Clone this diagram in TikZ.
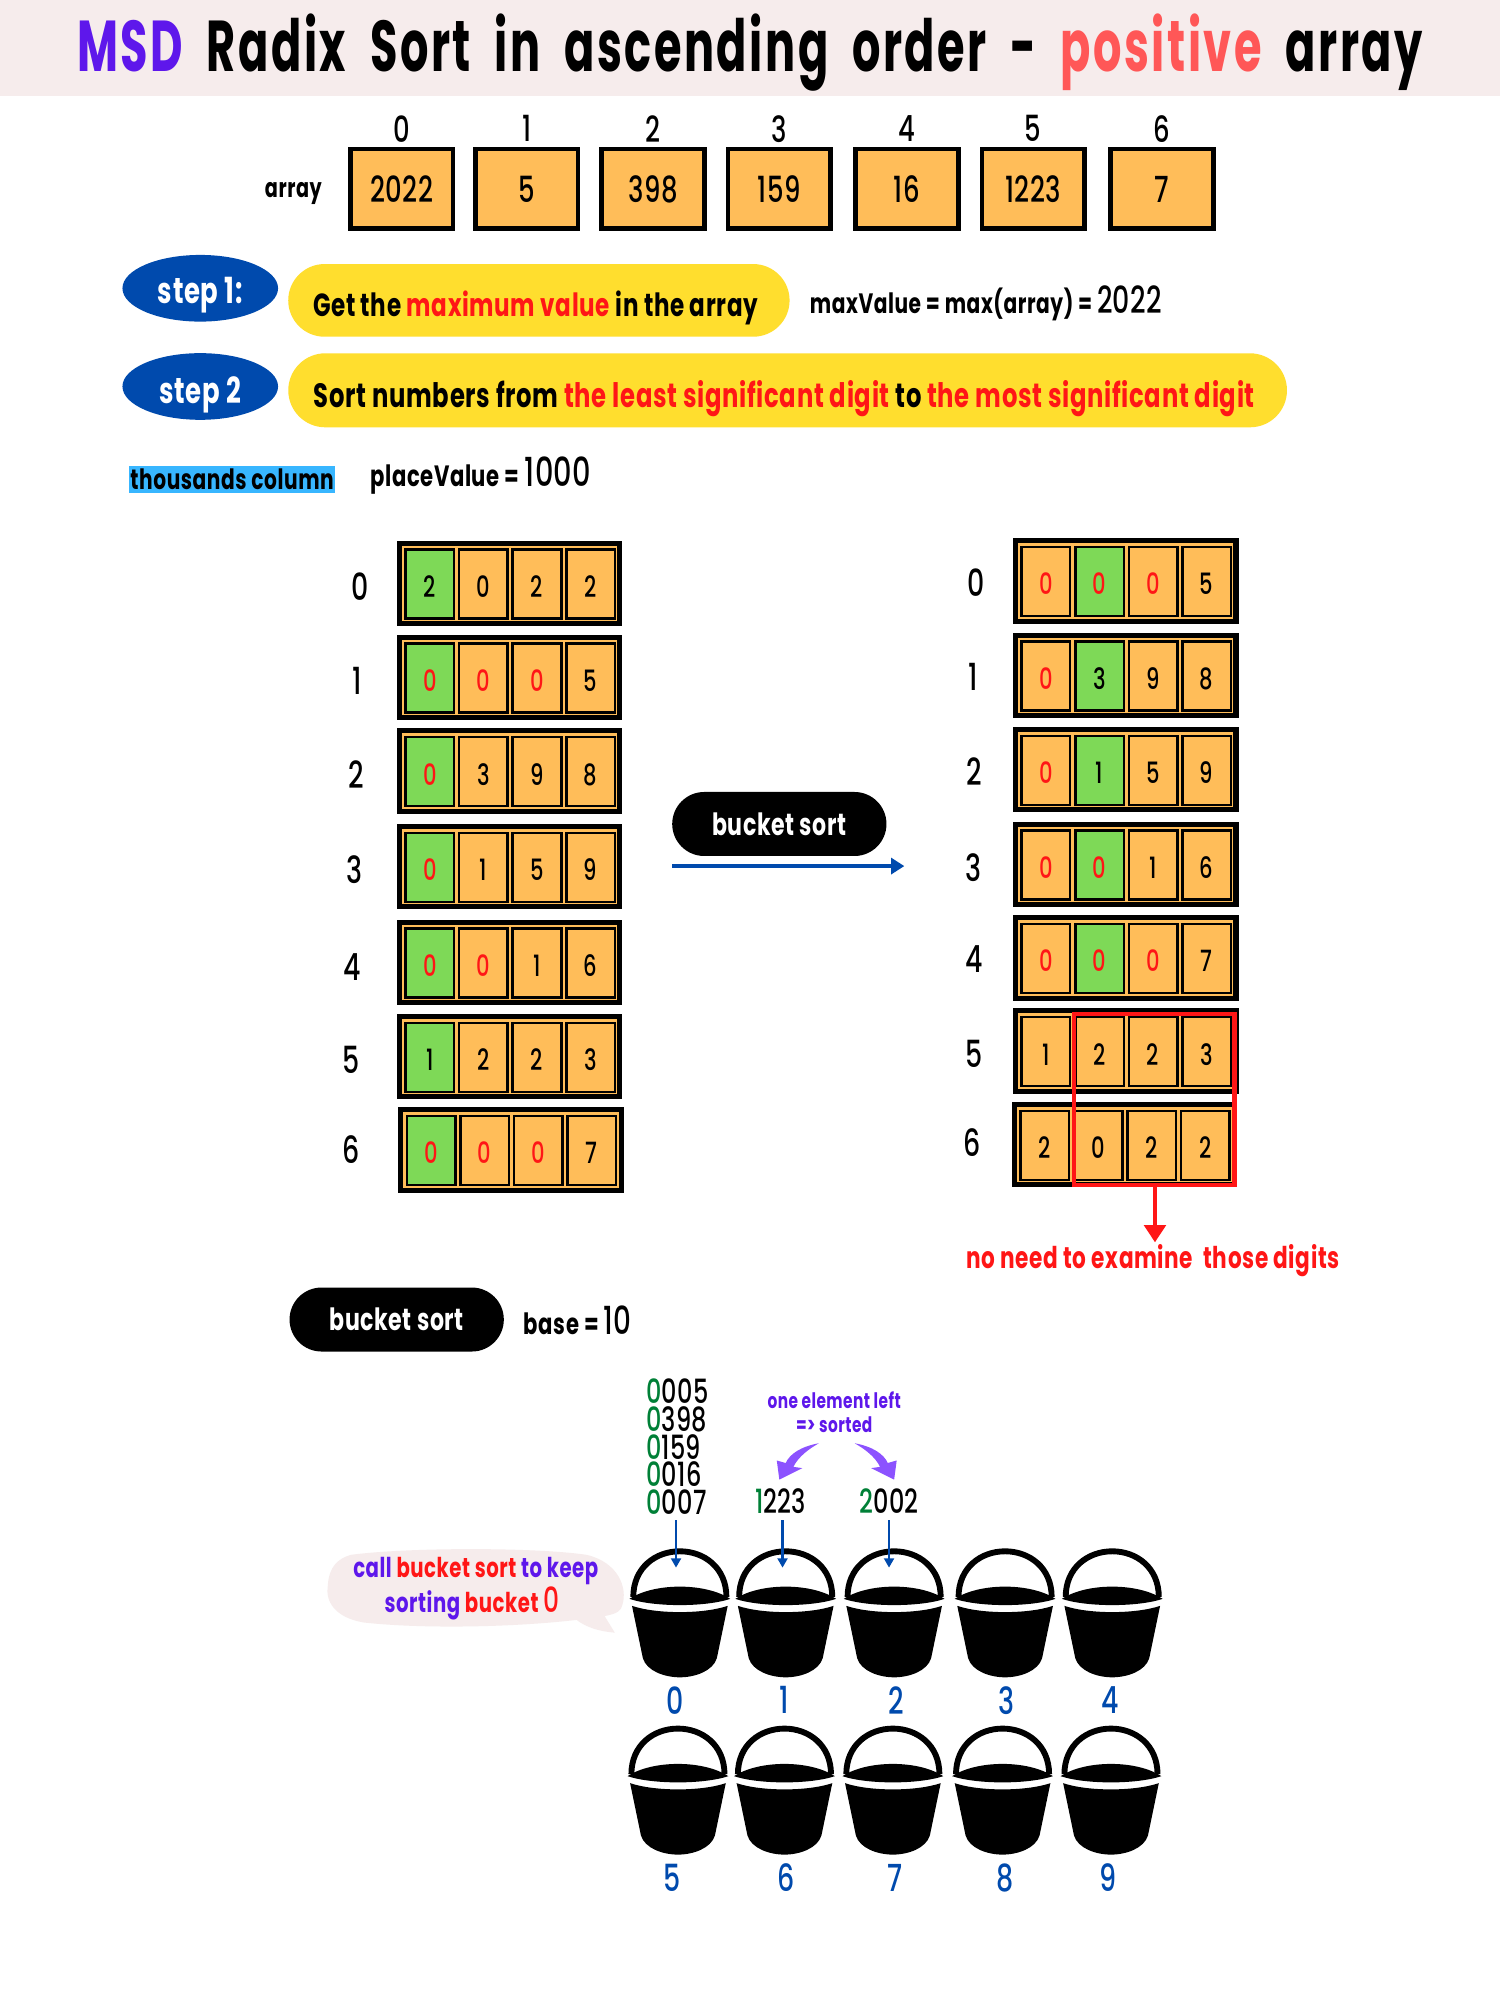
\documentclass[tikz,border=0pt]{standalone}
\usepackage{fontspec}
\usetikzlibrary{arrows.meta,shapes.geometric,shapes.misc}
\newfontfamily\hand[FakeStretch=0.72,LetterSpace=2]{Poppins}
\newfontfamily\handm[FakeStretch=0.72,LetterSpace=1]{Poppins Medium}
\newfontfamily\titlef[FakeStretch=0.62,LetterSpace=3.5,WordSpace=2]{Poppins}
\newcommand\fsz[1]{\fontsize{#1}{#1}\selectfont}
\definecolor{band}{HTML}{F6ECEC}
\definecolor{dorange}{HTML}{FFBD59}
\definecolor{dgreen}{HTML}{7ED957}
\definecolor{ablue}{HTML}{004AAD}
\definecolor{yel}{HTML}{FFDE2E}
\definecolor{hred}{HTML}{FF1616}
\definecolor{coral}{HTML}{FF5757}
\definecolor{purp}{HTML}{5E17EB}
\definecolor{lpurp}{HTML}{8C52FF}
\definecolor{sky}{HTML}{38B6FF}
\definecolor{dgn}{HTML}{008037}
\newcommand\R[1]{\textcolor{hred}{#1}}
\newcommand\Pu[1]{\textcolor{purp}{#1}}
\newcommand\G[1]{\textcolor{dgn}{#1}}
\newcommand\zr{\R{0}}
\tikzset{
  every node/.style={font=\hand\fsz{22}, inner sep=0pt, outer sep=0pt, align=center},
  arrcell/.style={draw=black, fill=dorange, line width=3.4pt, minimum width=77pt, minimum height=59.8pt, font=\handm\fsz{27}, text height=21pt, text depth=0pt},
  idx/.style={font=\handm\fsz{27}},
  rowbase/.style={fill=black, minimum width=169.3pt, minimum height=64pt},
  rowinner/.style={fill=dorange, minimum width=161.5pt, minimum height=56.5pt},
  dcell/.style={draw=black, line width=1.9pt, minimum width=36.4pt, minimum height=51.7pt, font=\handm\fsz{22}, text height=20pt, text depth=0pt},
  rowlab/.style={font=\handm\fsz{28}},
  blob/.style={ellipse, fill=ablue, text=white, minimum width=116.7pt, minimum height=50pt, font=\hand\bfseries\fsz{27}, text depth=0pt},
  pill/.style={rounded rectangle, fill=yel, font=\hand\bfseries\fsz{24}, text depth=0pt},
  blackpill/.style={rounded rectangle, fill=black, text=white, minimum width=160.7pt, minimum height=48pt, font=\hand\bfseries\fsz{23}},
  blab/.style={text=ablue, font=\handm\fsz{28}},
  bnum/.style={font=\handm\fsz{25}},
  blueflow/.style={draw=ablue, line width=1.6pt, -{Triangle[length=7pt,width=7.5pt]}},
  bkt/.style={fill=black}
}
\newcommand\digcell[5]{%
  \ifnum#4=1 \def\cc{dgreen}\else\def\cc{dorange}\fi
  \node[dcell, fill=\cc] (#1) at (#2,#3) {#5};}
\newcommand\digrow[8]{%
  \node[rowbase] (#1) at (#2+88.5,#3+33.5) {};
  \node[rowinner] (#1i) at (#2+88.5,#3+33.5) {};
  \ifnum#4=1 \digcell{#1a}{#2+26}{#3+34}{1}{#5}\else\digcell{#1a}{#2+26}{#3+34}{0}{#5}\fi
  \ifnum#4=2 \digcell{#1b}{#2+68}{#3+34}{1}{#6}\else\digcell{#1b}{#2+68}{#3+34}{0}{#6}\fi
  \digcell{#1c}{#2+110}{#3+34}{0}{#7}
  \digcell{#1d}{#2+152}{#3+34}{0}{#8}}
\newcommand\bucket[3]{%
  \begin{scope}[shift={(#2,#3)}]
    \draw[line width=4.4pt] (-36.5,38) .. controls (-36.5,15) and (-19,2.2) .. (0,2.2) .. controls (19,2.2) and (36.5,15) .. (36.5,38);
    \fill[bkt] (-39.5,39.5) .. controls (-20,26.7) and (20,26.7) .. (39.5,39.5)
       .. controls (20,46) and (-20,46) .. cycle;
    \fill[bkt] (-37.5,45) .. controls (-18,51.5) and (18,51.5) .. (37.5,45)
       -- (29,86) .. controls (26,96) and (12,101) .. (0,101) .. controls (-12,101) and (-26,96) .. (-29,86) -- cycle;
    \coordinate (#1) at (0,40);
  \end{scope}}
\begin{document}
\begin{tikzpicture}[x=0.9566pt,y=-0.9566pt]
\useasboundingbox (0,0) rectangle (1176,1568);
\fill[white] (0,0) rectangle (1176,1568);
\fill[band] (0,0) rectangle (1176,75);
% title
\node[font=\titlef\bfseries\fsz{54}, text height=38pt, text depth=0pt] (title) at (588,36)
 {\textcolor{purp}{MSD} Radix Sort in ascending order - \textcolor{coral}{positive} array};
% array
\node[font=\hand\bfseries\fsz{20}] (arrlab) at (230,152) {array};
\foreach \n/\x/\v in {0/315/2022,1/413/5,2/512/398,3/611/159,4/711/16,5/810/1223}{
  \node[arrcell] (c\n) at (\x,148) {\v};
  \node[idx] (i\n) at (\x,101) {\n};
}
\node[arrcell] (c6) at (911,148) {7};
\node[idx] (i6) at (911,101) {6};
% steps
\node[blob, text height=23pt] (s1) at (157,226) {step 1:};
\node[blob, text height=25pt] (s2) at (157,303) {step 2};
\node[pill, minimum width=376pt, minimum height=54.5pt, text height=24pt] (p1) at (422.5,235.5)
 {Get the \R{maximum value} in the array\hspace*{5pt}};
\node[pill, minimum width=749pt, minimum height=55.5pt, text height=26pt, font=\hand\bfseries\fsz{25.3}] (p2) at (617.5,306)
 {Sort numbers from \R{the least significant digit} to \R{the most significant digit}\hspace*{5pt}};
\node[font=\hand\bfseries\fsz{21}] (mv) at (773,238) {maxValue = max(array) = {\handm\mdseries\fsz{28}2022}};
\node[fill=sky, minimum width=155pt, minimum height=20pt] (th) at (182,376) {\hand\bfseries\fsz{21}thousands column};
\node[font=\hand\bfseries\fsz{22}] (pv) at (377,373) {placeValue = {\handm\mdseries\fsz{30}1000}};
% left table
\digrow{la}{311}{424}{1}{2}{0}{2}{2}
\digrow{lb}{311}{497.5}{1}{\zr}{\zr}{\zr}{5}
\digrow{lc}{311}{571}{1}{\zr}{3}{9}{8}
\digrow{ld}{311}{646}{1}{\zr}{1}{5}{9}
\digrow{le}{311}{721}{1}{\zr}{\zr}{1}{6}
\digrow{lf}{311}{795}{1}{1}{2}{2}{3}
\digrow{lg}{312}{868}{1}{\zr}{\zr}{\zr}{7}
\foreach \n/\x/\y in {0/282/460,1/280/534,2/279/607,3/278/682,4/276/758,5/275/831,6/275/901}
  \node[rowlab] (ll\n) at (\x,\y) {\n};
% right table
\digrow{ra}{794}{422}{2}{\zr}{\zr}{\zr}{5}
\digrow{rb}{794}{496}{2}{\zr}{3}{9}{8}
\digrow{rc}{794}{570}{2}{\zr}{1}{5}{9}
\digrow{rd}{794}{644}{2}{\zr}{\zr}{1}{6}
\digrow{re}{794}{717.5}{2}{\zr}{\zr}{\zr}{7}
\digrow{rf}{794}{790.5}{0}{1}{2}{2}{3}
\digrow{rg}{793}{864}{0}{2}{0}{2}{2}
\foreach \n/\x/\y in {0/765/457,1/763/531,2/764/605,3/763/680,4/764/752,5/764/826,6/762/896}
  \node[rowlab] (rl\n) at (\x,\y) {\n};
% bucket sort arrow
\node[blackpill] (bs1) at (611,646) {bucket sort};
\coordinate (af) at (527,679);
\coordinate (at) at (709,679);
\draw[draw=ablue, line width=3.1pt, -{Triangle[length=10pt,width=12pt]}] (af) -- (at);
% red box
\coordinate (rbnw) at (842,795);
\coordinate (rbse) at (968,929);
\draw[hred, line width=3.6pt] (rbnw) rectangle (rbse);
\coordinate (rarrs) at (905.5,929);
\node[text=hred, font=\hand\bfseries\fsz{22.5}] (need) at (904,988) {no need to examine \ those digits};
\coordinate (rarre) at (905.5,974);
\draw[hred, line width=3.6pt, -{Triangle[length=13pt,width=16pt]}] (rarrs) -- (rarre);
% second pill
\node[blackpill] (bs2) at (311,1034.5) {bucket sort};
\node[font=\hand\bfseries\fsz{22}] (base) at (453,1035) {base = {\handm\mdseries\fsz{29}10}};
% numbers
\node[font=\handm\fontsize{25}{20.8}\selectfont, align=left, anchor=north] (n1) at (531,1081)
 {\G{0}005\\\G{0}398\\\G{0}159\\\G{0}016\\\G{0}007};
\node[bnum] (n6) at (612,1177) {\G{1}223};
\node[bnum] (n7) at (697,1177) {\G{2}002};
\node[text=purp, font=\hand\bfseries\fsz{16}] (one) at (654,1098) {one element left};
\node[text=purp, font=\hand\bfseries\fsz{16}] (srt) at (654,1117) {=> sorted};
\fill[lpurp] (642,1131.5) .. controls (628,1134) and (619,1140) .. (616,1147) -- (609,1145) -- (611,1160) -- (629,1151) -- (622,1150) .. controls (626,1142) and (634,1136) .. cycle;
\fill[lpurp] (670,1131.5) .. controls (684,1134) and (693,1140) .. (696,1147) -- (703,1145) -- (701,1160) -- (683,1151) -- (690,1150) .. controls (686,1142) and (678,1136) .. cycle;
% bubble
\fill[band] (275,1219) .. controls (320,1213) and (420,1213) .. (460,1219) .. controls (485,1225) and (492,1245) .. (488,1258) .. controls (487,1263) and (484,1265) .. (474,1267) -- (482,1280) .. controls (470,1279) and (460,1276) .. (452,1270) .. controls (400,1276) and (330,1277) .. (285,1272) .. controls (262,1268) and (255,1255) .. (257,1243) .. controls (258,1228) and (265,1222) .. cycle;
\node[font=\hand\bfseries\fsz{20.5}] (call) at (373,1232) {\Pu{call} \R{bucket sort} \Pu{to keep}};
\node[font=\hand\bfseries\fsz{20.5}] (sorting) at (370,1257) {\Pu{sorting} \R{bucket {\handm\mdseries\fsz{26}0}}};
% buckets
\bucket{b0}{533}{1214}
\bucket{b1}{616}{1214}
\bucket{b2}{701}{1214}
\bucket{b3}{788}{1214}
\bucket{b4}{872}{1214}
\bucket{b5}{531.5}{1353}
\bucket{b6}{615}{1353}
\bucket{b7}{700}{1353}
\bucket{b8}{786}{1353}
\bucket{b9}{871}{1353}
\foreach \n/\x in {0/529,1/615,2/703,3/789,4/870}
  \node[blab] (bl\n) at (\x,1333) {\n};
\foreach \n/\x in {5/527,6/616,7/702,8/788,9/869}
  \node[blab] (bl\n) at (\x,1472) {\n};
% arrows into buckets
\coordinate (t0s) at (530,1192); \coordinate (t0e) at (530,1229);
\coordinate (t1s) at (613.5,1192); \coordinate (t1e) at (613.5,1229);
\coordinate (t2s) at (697,1192); \coordinate (t2e) at (697,1229);
\draw[blueflow] (t0s) -- (t0e);
\draw[blueflow] (t1s) -- (t1e);
\draw[blueflow] (t2s) -- (t2e);
\end{tikzpicture}
\end{document}
